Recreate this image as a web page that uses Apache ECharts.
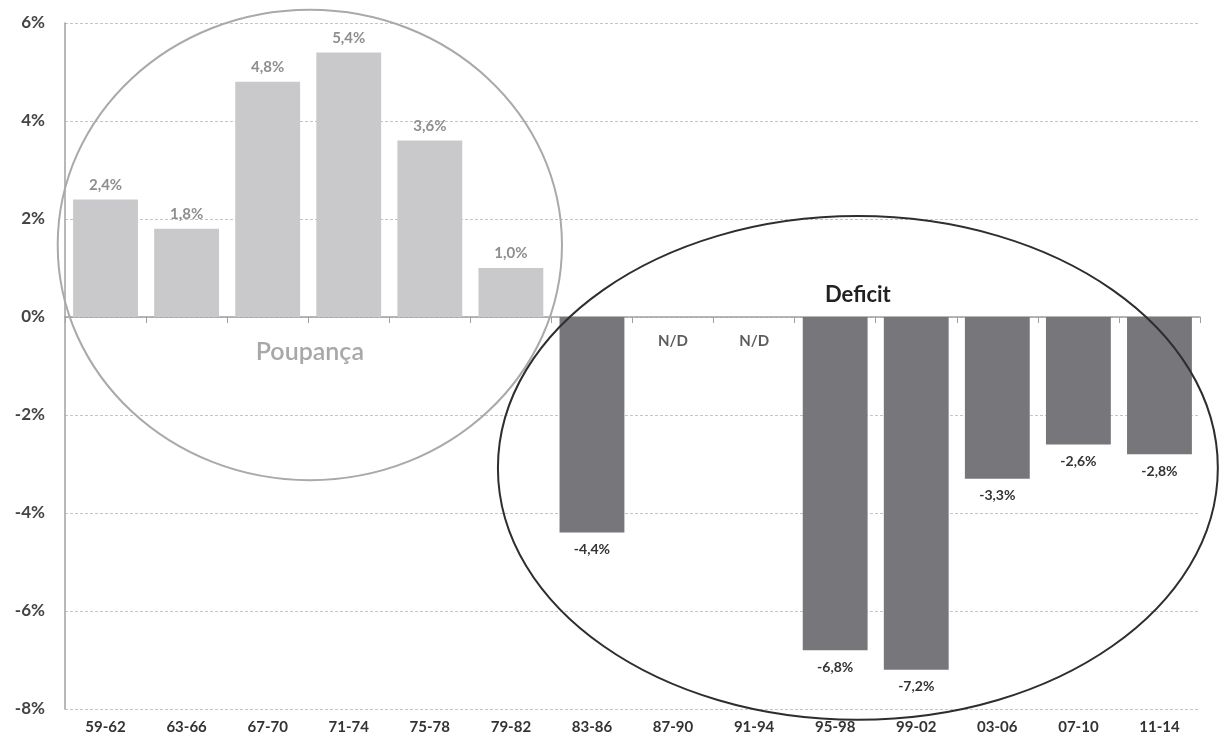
<!DOCTYPE html>
<html>
<head>
<meta charset="utf-8">
<script src="https://cdn.jsdelivr.net/npm/echarts@6/dist/echarts.min.js"></script>
<style>
  html, body { margin: 0; padding: 0; background: #fff; }
  #chart { width: 1222px; height: 752px; }
</style>
</head>
<body>
<div id="chart"></div>
<script>
// Periods (four-year windows) and the balance as % for each
const periods = ['59-62', '63-66', '67-70', '71-74', '75-78', '79-82', '83-86',
                 '87-90', '91-94', '95-98', '99-02', '03-06', '07-10', '11-14'];
const balance = [2.4, 1.8, 4.8, 5.4, 3.6, 1.0, -4.4,
                 null, null, -6.8, -7.2, -3.3, -2.6, -2.8];
// Periods with no data available
const missingMarks = [null, null, null, null, null, null, null,
                      -0.5, -0.5, null, null, null, null, null];
const yTicks = [-8, -6, -4, -2, 0, 2, 4, 6];

const FONT = 'Lato';
const fmt = v => String(v.toFixed(1)).replace('.', ',') + '%';

const barData = balance.map(v => {
  if (v === null) return null;
  const pos = v >= 0;
  return {
    value: v,
    itemStyle: { color: pos ? '#c9c9cb' : '#77777b' },
    label: {
      position: pos ? 'top' : 'bottom',
      color: pos ? '#8e8e8e' : '#333',
      fontWeight: 'bold',
      fontSize: pos ? 15 : 14,
      distance: pos ? 7 : 10
    }
  };
});

const chart = echarts.init(document.getElementById('chart'), null, { renderer: 'canvas' });

chart.setOption({
  animation: false,
  backgroundColor: '#fff',
  grid: { left: 65, right: 22, top: 23, bottom: 43, containLabel: false },
  xAxis: [
    {
      type: 'category',
      data: periods,
      axisLine: { onZero: true, lineStyle: { color: '#a0a0a0', width: 1.5 } },
      axisTick: { show: true, length: 6, lineStyle: { color: '#a0a0a0' } },
      axisLabel: { show: false },
      splitLine: { show: false }
    },
    {
      type: 'category',
      data: periods,
      position: 'bottom',
      axisLine: { show: false, onZero: false },
      axisTick: { show: false },
      axisLabel: {
        margin: 11, color: '#333', fontFamily: FONT, fontWeight: 'bold', fontSize: 15
      }
    }
  ],
  yAxis: {
    type: 'value',
    min: yTicks[0],
    max: yTicks[yTicks.length - 1],
    interval: 2,
    axisLine: { show: true, lineStyle: { color: '#a0a0a0', width: 1.5 } },
    axisTick: { show: false },
    axisLabel: {
      formatter: v => v + '%',
      color: '#444', fontFamily: FONT, fontWeight: 'bold', fontSize: 17, margin: 20
    },
    splitLine: { show: true, lineStyle: { color: '#c4c4c4', type: [3, 2], width: 1.2 } }
  },
  series: [
    {
      type: 'bar',
      xAxisIndex: 0,
      data: barData,
      barCategoryGap: '20%',
      label: { show: true, fontFamily: FONT, formatter: p => fmt(p.value) }
    },
    {
      type: 'scatter',
      xAxisIndex: 0,
      data: missingMarks,
      symbolSize: 0,
      silent: true,
      label: {
        show: true, position: 'inside', formatter: 'N/D',
        color: '#333', fontFamily: FONT, fontWeight: 'bold', fontSize: 15
      }
    }
  ]
});

// Grouping ellipses and their titles, placed in data space
function drawGroups() {
  const px = (i, v) => chart.convertToPixel({ xAxisIndex: 0, yAxisIndex: 0 }, [i, v]);
  const x0 = px(0, 0)[0];
  const catW = px(1, 0)[0] - x0;
  const y0 = px(0, 0)[1];
  const perUnit = y0 - px(0, 1)[1];
  // fractional category position -> pixel x
  const fx = i => x0 + catW * i;
  const fy = v => y0 - perUnit * v;

  const sav = [fx(2.52), fy(1.47)];
  const def = [fx(9.28), fy(-3.08)];

  chart.setOption({
    graphic: [
      {
        type: 'ellipse', silent: true, z: 10,
        shape: { cx: sav[0], cy: sav[1], rx: catW * 3.11, ry: perUnit * 4.8 },
        style: { fill: 'none', stroke: '#a9a9a9', lineWidth: 2 }
      },
      {
        type: 'ellipse', silent: true, z: 10,
        shape: { cx: def[0], cy: def[1], rx: catW * 4.44, ry: perUnit * 5.14 },
        style: { fill: 'none', stroke: '#2e2e2e', lineWidth: 2 }
      },
      {
        type: 'text', silent: true, z: 11, x: fx(2.52), y: fy(-0.72),
        style: {
          text: 'Poupança', fill: '#a8a8a8', font: '600 25px ' + FONT,
          align: 'center', verticalAlign: 'middle'
        }
      },
      {
        type: 'text', silent: true, z: 11, x: fx(9.28), y: fy(0.45),
        style: {
          text: 'Deficit', fill: '#222', font: 'bold 22px ' + FONT,
          align: 'center', verticalAlign: 'middle'
        }
      }
    ]
  });
}
drawGroups();
</script>
</body>
</html>
